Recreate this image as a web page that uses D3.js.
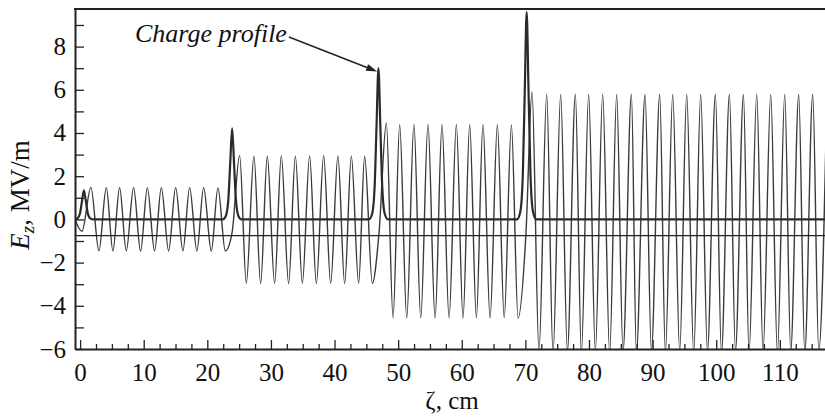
<!DOCTYPE html>
<html>
<head>
<meta charset="utf-8">
<script src="https://cdn.jsdelivr.net/npm/d3@7"></script>
<style>
  body { margin: 0; background: #fff; }
  svg { display: block; }
  svg text { font-family: "Liberation Serif", "Times New Roman", Times, serif !important; fill: #111; }
</style>
</head>
<body>
<svg width="825" height="419"></svg>
<script>
// x ticks, y ticks
const xMajorTicks = [0, 10, 20, 30, 40, 50, 60, 70, 80, 90, 100, 110];
const yTicks = [-6, -5, -4, -3, -2, -1, 0, 1, 2, 3, 4, 5, 6, 7, 8, 9];

// E_z extrema, [zeta cm, MV/m]
const ezRegion1 = [[-0.8, 0.0], [0.3, -0.55], [1.7, 1.48], [2.96, -1.45], [4.12, 1.47], [5.16, -1.46],
  [6.21, 1.47], [7.26, -1.46], [8.41, 1.47], [9.51, -1.47], [10.57, 1.46], [11.71, -1.46],
  [12.77, 1.47], [13.92, -1.46], [15.02, 1.47], [16.16, -1.46], [17.22, 1.47], [18.36, -1.46],
  [19.42, 1.47], [20.63, -1.47], [21.67, 1.46], [22.83, -1.46], [23.9, -0.6]];
const ezRegion2 = [[25.08, 2.95], [26.13, -2.96], [27.33, 2.93], [28.38, -2.97], [29.43, 2.92],
  [30.58, -2.96], [31.63, 2.94], [32.78, -2.97], [33.84, 2.93], [34.94, -2.96], [36.08, 2.94],
  [37.14, -2.97], [38.29, 2.95], [39.39, -2.96], [40.53, 2.94], [41.59, -2.97], [42.64, 2.93],
  [43.79, -2.96], [44.73, 2.92], [45.94, -2.96], [47.0, -0.6]];
const ezRegion3 = [[48.14, 4.46], [49.2, -4.55], [50.24, 4.38], [51.35, -4.57], [52.48, 4.4],
  [53.55, -4.56], [54.69, 4.4], [55.8, -4.57], [56.89, 4.38], [58.0, -4.56], [59.15, 4.4],
  [60.2, -4.57], [61.24, 4.38], [62.3, -4.56], [63.33, 4.4], [64.45, -4.57], [65.6, 4.38],
  [66.67, -4.56], [67.8, 4.37], [68.85, -4.57], [70.1, -0.6]];
const ezRegion4 = [[71.04, 5.9], [72.14, -6.1], [73.35, 5.8], [74.34, -6.2], [75.55, 5.78],
  [76.6, -6.1], [77.86, 5.8], [78.8, -6.2], [79.95, 5.78], [81.0, -6.1], [82.15, 5.8],
  [83.25, -6.2], [84.35, 5.78], [85.35, -6.1], [86.67, 5.8], [87.45, -6.2], [88.81, 5.78],
  [89.81, -6.1], [91.12, 5.8], [92.01, -6.2], [93.16, 5.78], [94.26, -6.1], [95.36, 5.8],
  [96.46, -6.2], [97.56, 5.78], [98.62, -6.1], [99.87, 5.8], [100.82, -6.2], [102.08, 5.8],
  [103.02, -6.1], [104.28, 5.78], [105.16, -6.2], [106.37, 5.8], [107.36, -6.1], [108.57, 5.78],
  [109.62, -6.2], [110.77, 5.8], [111.71, -6.1], [112.97, 5.78], [113.92, -6.2], [115.17, 5.8],
  [116.12, -6.1], [117.4, 5.8]];

// charge profile (arbitrary units on the same axis)
const chargeProfile = [[-0.8, 0], [-0.4, 0.05], [0.0, 0.3], [0.3, 0.85], [0.6, 1.35], [0.9, 0.85],
  [1.2, 0.3], [1.6, 0.05], [2.1, 0],
  [22.4, 0], [22.9, 0.15], [23.3, 0.9], [23.6, 2.6], [23.9, 4.22], [24.2, 2.6], [24.5, 0.9], [24.9, 0.15], [25.4, 0],
  [45.4, 0], [45.9, 0.25], [46.3, 1.5], [46.6, 4.3], [46.9, 7.0], [47.2, 4.3], [47.5, 1.5], [47.9, 0.25], [48.4, 0],
  [68.7, 0], [69.2, 0.35], [69.6, 2.1], [69.9, 5.9], [70.2, 9.6], [70.5, 5.9], [70.8, 2.1], [71.2, 0.35], [71.7, 0],
  [117.5, 0]];

// horizontal reference line
const refLevel = -0.75;

const chargeLabel = "Charge profile";
const chargeArrowTip = [46.7, 6.85];

const svg = d3.select('svg');
const plotLeft = 75, plotRight = 825, plotTop = 9, plotBottom = 349;

const x = d3.scaleLinear().domain([-0.8, 117.1]).range([plotLeft, plotRight]);
const y = d3.scaleLinear().domain([-6, 9.74]).range([plotBottom, plotTop]);

svg.append('defs').append('clipPath').attr('id', 'plot')
  .append('rect').attr('x', plotLeft).attr('y', plotTop)
  .attr('width', plotRight - plotLeft).attr('height', plotBottom - plotTop);

const plot = svg.append('g').attr('clip-path', 'url(#plot)');

const line = d3.line()
  .x(d => x(d[0]))
  .y(d => y(d[1]))
  .curve(d3.curveMonotoneX);

const field = [...ezRegion1, ...ezRegion2, ...ezRegion3, ...ezRegion4];

plot.append('path')
  .datum(field)
  .attr('d', line)
  .attr('fill', 'none')
  .attr('stroke', '#3a3a3a')
  .attr('stroke-width', 1.4);

plot.append('line')
  .attr('x1', plotLeft).attr('x2', plotRight)
  .attr('y1', y(refLevel)).attr('y2', y(refLevel))
  .attr('stroke', '#222')
  .attr('stroke-width', 1.4);

plot.append('path')
  .datum(chargeProfile)
  .attr('d', line)
  .attr('fill', 'none')
  .attr('stroke', '#2a2a2a')
  .attr('stroke-width', 2.2);

// axes
svg.append('g')
  .attr('transform', `translate(0, ${plotBottom})`)
  .call(d3.axisBottom(x).tickValues(xMajorTicks).tickSize(-9).tickSizeOuter(0).tickPadding(14));

svg.append('g')
  .attr('transform', `translate(0, ${plotBottom})`)
  .call(d3.axisBottom(x).tickValues(d3.range(0, 117, 2.5).filter(v => v % 10 !== 0))
    .tickSize(-5).tickSizeOuter(0).tickFormat(''))
  .select('.domain').remove();

svg.append('g')
  .attr('transform', `translate(${plotLeft}, 0)`)
  .call(d3.axisLeft(y).tickValues(yTicks).tickSize(-9).tickSizeOuter(0).tickPadding(9)
    .tickFormat(d => d % 2 === 0 ? d3.format('')(d) : ''));

svg.selectAll('.tick text').attr('font-size', 25);
svg.selectAll('.tick line').attr('stroke', '#222').attr('stroke-width', 1.3);
svg.selectAll('.domain').attr('stroke', '#222').attr('stroke-width', 2);

svg.append('line')
  .attr('x1', plotLeft - 1).attr('x2', plotRight)
  .attr('y1', plotTop).attr('y2', plotTop)
  .attr('stroke', '#222').attr('stroke-width', 2);

// axis titles
svg.append('text')
  .attr('x', 452).attr('y', 409)
  .attr('text-anchor', 'middle')
  .attr('font-size', 25)
  .text('ζ, cm');

const yTitle = svg.append('text')
  .attr('transform', 'translate(29, 195) rotate(-90)')
  .attr('text-anchor', 'middle')
  .attr('font-size', 27);
yTitle.append('tspan').attr('font-style', 'italic').text('E');
yTitle.append('tspan').attr('font-style', 'italic').attr('font-size', 19).attr('dy', 5).text('z');
yTitle.append('tspan').attr('dy', -5).text(', MV/m');

// annotation
const label = svg.append('text')
  .attr('x', 135).attr('y', 42)
  .attr('font-size', 26)
  .attr('font-style', 'italic')
  .text(chargeLabel);

const lb = label.node().getBBox();
const x0 = lb.x + lb.width + 2, y0 = 37;
const x1 = x(chargeArrowTip[0]), y1 = y(chargeArrowTip[1]);
const ang = Math.atan2(y1 - y0, x1 - x0);
const headLen = 11, headW = 3.5;
const bx = x1 - headLen * Math.cos(ang), by = y1 - headLen * Math.sin(ang);

svg.append('line')
  .attr('x1', x0).attr('y1', y0).attr('x2', bx).attr('y2', by)
  .attr('stroke', '#222').attr('stroke-width', 1.5);
svg.append('path')
  .attr('d', `M${x1},${y1}L${bx - headW * Math.sin(ang)},${by + headW * Math.cos(ang)}L${bx + headW * Math.sin(ang)},${by - headW * Math.cos(ang)}Z`)
  .attr('fill', '#222');
</script>
</body>
</html>
